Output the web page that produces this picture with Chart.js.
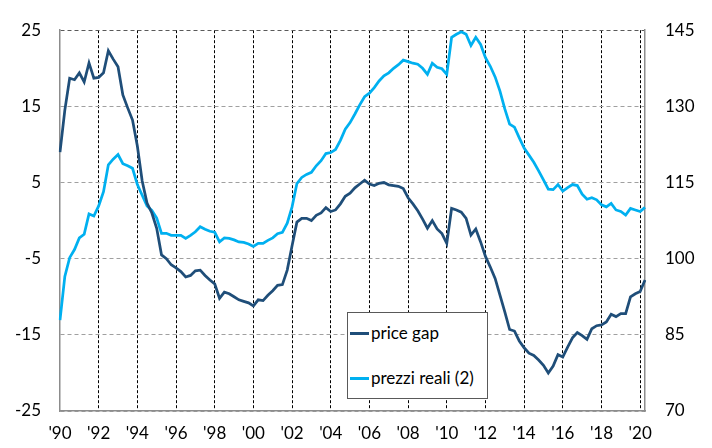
<!DOCTYPE html>
<html>
<head>
<meta charset="utf-8">
<script src="https://cdn.jsdelivr.net/npm/chart.js@4.4.1/dist/chart.umd.min.js"></script>
<style>
  html, body { margin:0; padding:0; background:#fff; }
  #wrap { position:relative; width:712px; height:448px; }
  #legend { position:absolute; left:347px; top:312px; width:141px; height:87px; border:1px solid #595959; background:#fff; box-sizing:border-box; font-family:Lato, 'Open Sans', sans-serif; font-size:17px; color:#000; }
  .sw { position:absolute; left:2px; width:19px; height:3px; }
  .tx { position:absolute; left:23px; line-height:20px; white-space:nowrap; }
</style>
</head>
<body>
<div id="wrap">
  <canvas id="c" width="712" height="448"></canvas>
  <div id="legend">
    <div class="sw" id="sw1" style="top:19px;"></div><div class="tx" id="tx1" style="top:10px;"></div>
    <div class="sw" id="sw2" style="top:64px;"></div><div class="tx" id="tx2" style="top:55px;"></div>
  </div>
</div>
<script>
// Quarterly categories
const quarters = [
  '1990Q1','1990Q2','1990Q3','1990Q4','1991Q1','1991Q2','1991Q3','1991Q4',
  '1992Q1','1992Q2','1992Q3','1992Q4','1993Q1','1993Q2','1993Q3','1993Q4',
  '1994Q1','1994Q2','1994Q3','1994Q4','1995Q1','1995Q2','1995Q3','1995Q4',
  '1996Q1','1996Q2','1996Q3','1996Q4','1997Q1','1997Q2','1997Q3','1997Q4',
  '1998Q1','1998Q2','1998Q3','1998Q4','1999Q1','1999Q2','1999Q3','1999Q4',
  '2000Q1','2000Q2','2000Q3','2000Q4','2001Q1','2001Q2','2001Q3','2001Q4',
  '2002Q1','2002Q2','2002Q3','2002Q4','2003Q1','2003Q2','2003Q3','2003Q4',
  '2004Q1','2004Q2','2004Q3','2004Q4','2005Q1','2005Q2','2005Q3','2005Q4',
  '2006Q1','2006Q2','2006Q3','2006Q4','2007Q1','2007Q2','2007Q3','2007Q4',
  '2008Q1','2008Q2','2008Q3','2008Q4','2009Q1','2009Q2','2009Q3','2009Q4',
  '2010Q1','2010Q2','2010Q3','2010Q4','2011Q1','2011Q2','2011Q3','2011Q4',
  '2012Q1','2012Q2','2012Q3','2012Q4','2013Q1','2013Q2','2013Q3','2013Q4',
  '2014Q1','2014Q2','2014Q3','2014Q4','2015Q1','2015Q2','2015Q3','2015Q4',
  '2016Q1','2016Q2','2016Q3','2016Q4','2017Q1','2017Q2','2017Q3','2017Q4',
  '2018Q1','2018Q2','2018Q3','2018Q4','2019Q1','2019Q2','2019Q3','2019Q4',
  '2020Q1','2020Q2'
];

// Tick labels shown on the x axis (category -> label)
const tickCategories = ['1990Q1','1992Q1','1994Q1','1996Q1','1998Q1','2000Q1','2002Q1','2004Q1',
  '2006Q1','2008Q1','2010Q1','2012Q1','2014Q1','2016Q1','2018Q1','2020Q1'];
const tickLabels = ["'90","'92","'94","'96","'98","'00","'02","'04",
  "'06","'08","'10","'12","'14","'16","'18","'20"];

const seriesNames = ['price gap', 'prezzi reali (2)'];

// price gap (left axis)
const priceGap = [
  9.0, 14.5, 18.7, 18.5,
  19.4, 18.2, 20.7, 18.7,
  18.8, 19.4, 22.3, 21.2,
  20.2, 16.5, 14.8, 13.2,
  9.8, 5.2, 2.3, 1.0,
  -1.0, -4.5, -5.0, -5.8,
  -6.2, -6.7, -7.4, -7.2,
  -6.6, -6.5, -7.2, -7.8,
  -8.3, -10.2, -9.4, -9.6,
  -10.0, -10.4, -10.6, -10.8,
  -11.2, -10.4, -10.5, -9.8,
  -9.2, -8.5, -8.4, -6.5,
  -3.3, -0.2, 0.3, 0.3,
  0.0, 0.7, 1.0, 1.7,
  1.2, 1.4, 2.2, 3.2,
  3.6, 4.3, 4.8, 5.3,
  4.8, 4.6, 4.9, 5.0,
  4.7, 4.6, 4.5, 4.2,
  3.0, 2.2, 1.3, 0.2,
  -1.0, 0.0, -1.1, -1.7,
  -3.0, 1.6, 1.4, 1.1,
  0.3, -1.9, -1.1, -2.8,
  -4.7, -6.1, -7.6, -9.8,
  -12.0, -14.3, -14.5, -15.8,
  -16.7, -17.4, -17.7, -18.3,
  -19.0, -20.0, -19.1, -17.6,
  -17.9, -16.6, -15.4, -14.7,
  -15.1, -15.6, -14.2, -13.8,
  -13.7, -13.3, -12.3, -12.6,
  -12.2, -12.2, -10.0, -9.6,
  -9.3, -7.8
];

// prezzi reali (2) (right axis)
const prezziReali = [
  87.9, 96.5, 100.2, 101.8,
  104.1, 104.8, 108.8, 108.4,
  110.4, 113.2, 118.5, 119.6,
  120.5, 118.7, 118.3, 117.8,
  114.6, 112.5, 110.4, 109.5,
  108.0, 105.0, 105.0, 104.6,
  104.6, 104.6, 104.0, 104.6,
  105.3, 106.3, 105.8, 105.4,
  105.2, 103.3, 104.1, 104.0,
  103.7, 103.3, 103.2, 102.9,
  102.4, 103.0, 103.0, 103.6,
  104.1, 104.9, 105.2, 107.0,
  110.2, 114.8, 116.0, 116.6,
  117.0, 118.3, 119.3, 120.7,
  120.9, 121.5, 123.3, 125.5,
  126.8, 128.5, 130.3, 131.9,
  132.6, 133.7, 135.0, 136.0,
  136.6, 137.5, 138.2, 139.1,
  138.8, 138.5, 138.3, 137.5,
  136.3, 138.5, 137.7, 137.4,
  136.3, 143.6, 144.2, 144.7,
  144.2, 142.0, 143.6, 142.2,
  139.6, 137.9, 135.8, 133.0,
  129.5, 126.5, 125.9, 123.8,
  121.8, 120.4, 119.0, 117.3,
  115.5, 113.7, 113.6, 114.6,
  113.3, 114.0, 114.6, 114.4,
  112.7, 111.7, 112.0, 111.6,
  110.6, 110.2, 110.9, 109.6,
  109.3, 108.6, 109.9, 109.6,
  109.3, 110.1
];

const colors = ['#1F4E79', '#00B0F0'];

document.getElementById('sw1').style.background = colors[0];
document.getElementById('sw2').style.background = colors[1];
document.getElementById('tx1').textContent = seriesNames[0];
document.getElementById('tx2').textContent = seriesNames[1];

Chart.defaults.font.family = "Lato, 'Open Sans', sans-serif";
Chart.defaults.font.size = 17;
Chart.defaults.color = '#000';

new Chart(document.getElementById('c'), {
  type: 'line',
  data: {
    labels: quarters,
    datasets: [
      { label: seriesNames[0], data: priceGap, yAxisID: 'y', borderColor: colors[0], borderWidth: 2.75, pointRadius: 0, tension: 0, fill: false },
      { label: seriesNames[1], data: prezziReali, yAxisID: 'y2', borderColor: colors[1], borderWidth: 2.75, pointRadius: 0, tension: 0, fill: false }
    ]
  },
  options: {
    responsive: false,
    animation: false,
    layout: { padding: { top: 16, left: 0, right: 0, bottom: 0 } },
    plugins: { legend: { display: false }, tooltip: { enabled: false } },
    scales: {
      x: {
        type: 'category',
        offset: false,
        afterFit: s => { s.height = 37; },
        ticks: {
          autoSkip: false, maxRotation: 0, padding: 12,
          callback: function(v) {
            const lab = this.getLabelForValue(v);
            const i = tickCategories.indexOf(lab);
            return i >= 0 ? tickLabels[i] : '';
          }
        },
        grid: {
          drawTicks: false,
          lineWidth: 1,
          color: ctx => {
            const lab = quarters[ctx.index];
            return (tickCategories.indexOf(lab) > 0) ? '#000' : 'rgba(0,0,0,0)';
          }
        },
        border: { display: true, color: '#8c8c8c', width: 1.5, dash: [3, 2] }
      },
      y: {
        position: 'left', min: -25, max: 25,
        afterFit: s => { s.width = 60; },
        ticks: { stepSize: 10, padding: 19 },
        grid: { drawTicks: false, lineWidth: 1, color: ctx => (ctx.tick && ctx.tick.value === 25) ? '#595959' : '#a0a0a0' },
        border: { display: true, color: '#8c8c8c', width: 1.5, dash: [4, 3] }
      },
      y2: {
        position: 'right', min: 70, max: 145,
        afterFit: s => { s.width = 67; },
        ticks: { stepSize: 15, padding: 20 },
        grid: { drawOnChartArea: false, drawTicks: false },
        border: { display: true, color: '#8c8c8c', width: 1.5 }
      }
    }
  }
});
</script>
</body>
</html>
